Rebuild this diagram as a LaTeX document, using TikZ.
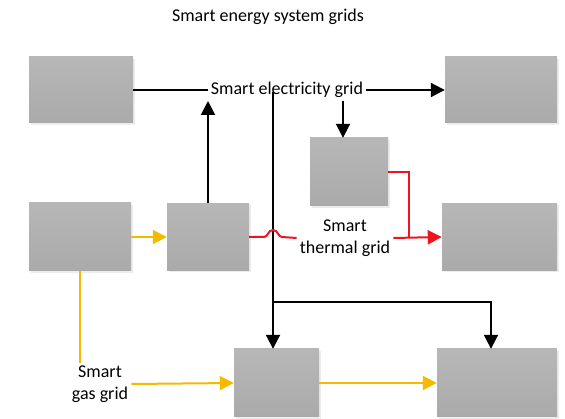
\documentclass[tikz,border=0pt]{standalone}
\usepackage{fontspec}
\setmainfont{Carlito}
\usetikzlibrary{arrows.meta}
\usetikzlibrary{shadows}
\definecolor{gasyellow}{RGB}{245,185,0}
\definecolor{heatred}{RGB}{236,20,30}
\definecolor{boxtop}{RGB}{183,183,183}
\definecolor{boxbot}{RGB}{170,170,170}
\tikzset{
  unit/.style={rectangle,inner sep=0pt,draw=none,top color=boxtop,bottom color=boxbot,
    drop shadow={opacity=0.15,shadow xshift=2pt,shadow yshift=-2pt}},
  lbl/.style={font=\fontsize{18}{21.6}\selectfont,inner sep=3pt,align=center},
  power/.style={draw=black,line width=2pt},
  gasline/.style={draw=gasyellow,line width=2pt},
  heatline/.style={draw=heatred,line width=2pt},
  arrowed/.style={-{Triangle[length=14pt,width=14pt]}}
}
\begin{document}
\begin{tikzpicture}[x=1pt,y=-1pt]
\useasboundingbox (0,0) rectangle (565,419);
% units
\node[unit,minimum width=104pt,minimum height=66pt] (A) at (81,90) {};
\node[unit,minimum width=112pt,minimum height=66pt] (B) at (501,90) {};
\node[unit,minimum width=78pt,minimum height=68pt] (C) at (349,172) {};
\node[unit,minimum width=102pt,minimum height=68pt] (D) at (80,237) {};
\node[unit,minimum width=82pt,minimum height=67pt] (E) at (208,237) {};
\node[unit,minimum width=115pt,minimum height=67pt] (F) at (499.5,237) {};
\node[unit,minimum width=85pt,minimum height=68pt] (G) at (276.5,383) {};
\node[unit,minimum width=120pt,minimum height=68pt] (H) at (497,383) {};
% labels
\node[lbl] (title) at (268,17) {Smart energy system grids};
\node[lbl] (elec) at (287,90) {Smart electricity grid};
\node[lbl] (thermal) at (345,238) {Smart\\thermal grid};
\node[lbl] (gas) at (100,384) {Smart\\gas grid};
\coordinate (spine) at (273,92);
\coordinate (split) at (273,302);
\coordinate (hopL) at (264,237);
\coordinate (hopR) at (282,237);
\coordinate (tee) at (409,237);

% electricity
\draw[power] (A.east) -- (elec.west);
\draw[power,arrowed] (elec.east) -- (B.west);
\draw[power,arrowed] (E.north) -- (E.north |- elec.south);
\draw[power,arrowed] ([xshift=-6pt]C.north |- elec.south) -- ([xshift=-6pt]C.north);
\draw[power] (spine) -- (split);
\draw[power,arrowed] (split) -- (split |- G.north);
\draw[power,arrowed] (split) -| ([xshift=-6pt]H.north);

% thermal
\draw[heatline] (E.east) -- (hopL) .. controls (268,237) and (268,230) .. (273,230)
  .. controls (278,230) and (278,237) .. (hopR) -- (thermal.west);
\draw[heatline] (C.east) -| (tee);
\draw[heatline,arrowed] (thermal.east) -- (F.west);

% gas
\draw[gasline,arrowed] (D.east) -- (E.west);
\draw[gasline] (D.south) -- (D.south |- gas.north);
\draw[gasline,arrowed] (gas.east) -- (G.west);
\draw[gasline,arrowed] (G.east) -- (H.west);
\end{tikzpicture}
\end{document}
